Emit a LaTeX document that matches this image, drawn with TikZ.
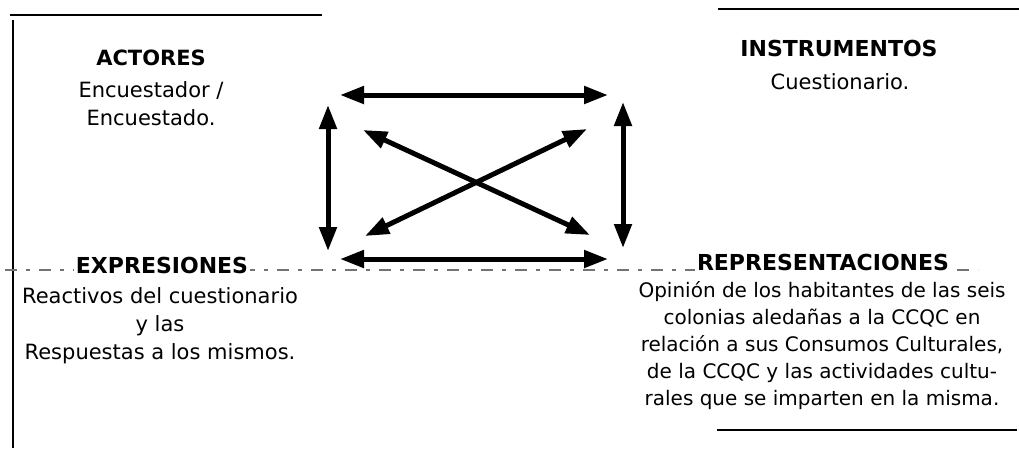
\documentclass[tikz,border=0pt]{standalone}
\usepackage{fontspec}
\setmainfont{DejaVu Sans}
\usepackage{tikz}
\usetikzlibrary{arrows.meta}

\begin{document}
\begin{tikzpicture}[x=1pt,y=-1pt,
    biarrow/.style={line width=5pt,{Triangle[length=24pt,width=17pt]}-{Triangle[length=24pt,width=17pt]}},
    frameline/.style={line width=2.8pt},
    heading/.style={font=\fontsize{22}{24}\selectfont\bfseries,fill=white,inner sep=2pt},
    body/.style={font=\fontsize{21}{28}\selectfont,align=center,inner sep=0pt}]
    \useasboundingbox (0,0) rectangle (1019,448);
    %--- marco ---
    \draw[frameline] (10,15) -- (322,15);
    \draw[frameline] (13,20) -- (13,448);
    \draw[frameline] (718,9) -- (1019,9);
    \draw[frameline] (717,430) -- (1017,430);
    %--- linea punteada ---
    \draw[black!55,line width=1.4pt,dash pattern=on 12pt off 9pt on 4pt off 9pt] (5,270) -- (978,270);
    %--- textos ---
    \node[heading,font=\fontsize{21}{24}\selectfont\bfseries] (actores) at (151,58) {ACTORES};
    \node[body] (actoresTxt) at (151,104) {Encuestador /\\Encuestado.};
    \node[heading,font=\fontsize{22}{24}\selectfont] (instr) at (839,48) {\textbf{INSTRUMENTOS}};
    \node[body] (instrTxt) at (840,82) {Cuestionario.};
    \node[heading] (expr) at (162,265) {EXPRESIONES};
    \node[body] (exprTxt) at (160,326) {Reactivos del cuestionario\\y las\\Respuestas a los mismos.};
    \node[heading] (repr) at (823,262) {REPRESENTACIONES};
    \node[body,font=\fontsize{20}{27}\selectfont] (reprTxt) at (822,346)
      {Opinión de los habitantes de las seis\\colonias aledañas a la CCQC en\\relación a sus Consumos Culturales,\\de la CCQC y las actividades cultu-\\rales que se imparten en la misma.};
    %--- extremos de las flechas ---
    \coordinate (topL) at (340,95);   \coordinate (topR) at (608,95);
    \coordinate (botL) at (340,259);  \coordinate (botR) at (608,259);
    \coordinate (lftT) at (328,105);  \coordinate (lftB) at (328,251);
    \coordinate (rgtT) at (623,102);  \coordinate (rgtB) at (623,248);
    \coordinate (dgAT) at (363,130);  \coordinate (dgAB) at (590,235);
    \coordinate (dgBT) at (587,129);  \coordinate (dgBB) at (365,236);
    %--- flechas ---
    \draw[biarrow] (topL) -- (topR);
    \draw[biarrow] (botL) -- (botR);
    \draw[biarrow] (lftT) -- (lftB);
    \draw[biarrow] (rgtT) -- (rgtB);
    \draw[biarrow] (dgAT) -- (dgAB);
    \draw[biarrow] (dgBT) -- (dgBB);
\end{tikzpicture}
\end{document}
